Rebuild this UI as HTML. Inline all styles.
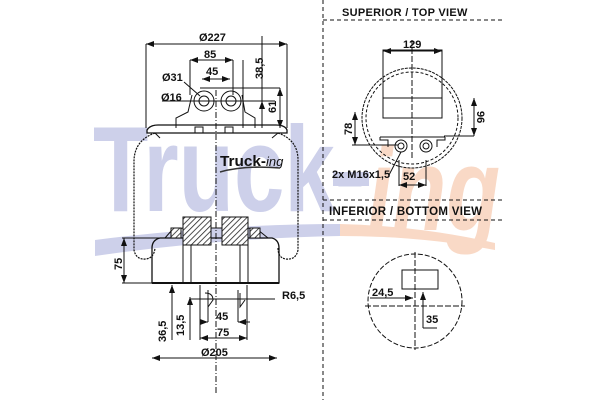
<!DOCTYPE html>
<html><head><meta charset="utf-8"><style>
html,body{margin:0;padding:0;background:#fff;width:600px;height:400px;overflow:hidden}
svg{display:block}
text{font-family:"Liberation Sans",sans-serif;font-weight:bold;fill:#111}
</style></head><body>
<svg width="600" height="400" viewBox="0 0 600 400" xmlns="http://www.w3.org/2000/svg">
<defs>
<pattern id="h" width="4" height="4" patternUnits="userSpaceOnUse" patternTransform="rotate(45)"><rect width="4" height="4" fill="#fff"/><line x1="0" y1="0" x2="0" y2="4" stroke="#222" stroke-width="1.6"/></pattern>
<marker id="a" markerWidth="8" markerHeight="6" refX="8" refY="3" orient="auto-start-reverse"><path d="M0,0 L8,3 L0,6z" fill="#111"/></marker>
</defs>
<!-- watermark -->
<text x="93" y="211" font-size="122" textLength="272" lengthAdjust="spacingAndGlyphs" style="fill:#cdd0ea;font-family:'Liberation Sans',sans-serif;font-weight:bold">Truck-</text>
<text x="368" y="230" font-size="118" textLength="132" lengthAdjust="spacingAndGlyphs" style="fill:#f9d9c6;font-family:'Liberation Sans',sans-serif;font-weight:bold;font-style:italic">ing</text>
<path d="M95,240 Q220,224 340,224 L340,236 Q220,238 95,256 Z" fill="#cdd0ea"/>
<path d="M340,224 Q420,226 495,243 L495,250 Q420,236 340,236Z" fill="#f9d9c6"/>
<rect x="333" y="172" width="36" height="14" fill="#cdd0ea"/>
<g fill="none" stroke="#111" stroke-width="1">
<line x1="146" y1="44" x2="146" y2="128"/><line x1="287" y1="44" x2="287" y2="128"/>
<line x1="146" y1="44" x2="287" y2="44" marker-start="url(#a)" marker-end="url(#a)"/>
<line x1="190" y1="60" x2="190" y2="95"/><line x1="233" y1="60" x2="233" y2="95"/>
<line x1="190" y1="60" x2="233" y2="60" marker-start="url(#a)" marker-end="url(#a)"/>
<line x1="202" y1="79" x2="230" y2="79" marker-start="url(#a)" marker-end="url(#a)"/>
<line x1="243" y1="60" x2="243" y2="128"/>
<line x1="262" y1="36" x2="262" y2="128"/>
<line x1="200" y1="88" x2="280" y2="88"/><line x1="280" y1="88" x2="280" y2="128" marker-start="url(#a)" marker-end="url(#a)"/>
<line x1="162" y1="101" x2="275" y2="101"/><line x1="262" y1="101" x2="262" y2="128" marker-start="url(#a)"/>
<line x1="184" y1="82" x2="200" y2="96"/>
<circle cx="204" cy="101" r="10"/><circle cx="204" cy="101" r="5"/>
<circle cx="231" cy="101" r="10"/><circle cx="231" cy="101" r="5"/>
<path d="M176,128 L176,118 L188,112 L192,95 M255,128 L255,118 L245,112 L242,95"/>
<line x1="216" y1="90" x2="216" y2="395" stroke-dasharray="6,2,1,2"/>
<path d="M147,130 Q150,125 158,125 L276,125 Q285,125 287,130 L287,133 L147,133Z" stroke-width="1.3"/>
<rect x="195" y="127" width="8" height="6"/><rect x="225" y="127" width="8" height="6"/>
<path d="M155,133 L160,138 M278,133 L272,138"/>
<path d="M155,133 Q135,140 134,160 L134,250 Q136,260 146,259 Q154,258 155,248" stroke-dasharray="2,1" stroke-width="1.2"/>
<path d="M278,133 Q298,140 298,160 L298,250 Q296,260 286,259 Q278,258 278,248" stroke-dasharray="2,1" stroke-width="1.2"/>
<path d="M152,283 L152,248 Q152,240 160,238 L272,238 Q279,240 279,248 L279,283 Z" stroke-width="1.3"/>
<line x1="152" y1="283" x2="279" y2="283" stroke-width="2"/>
<rect x="183" y="243" width="8" height="40"/><rect x="240" y="243" width="8" height="40"/>
<path d="M165,238 L172,230 L183,228 L248,228 L258,230 L268,238"/>
<rect x="183" y="217" width="28" height="28" fill="url(#h)"/><rect x="222" y="217" width="26" height="28" fill="url(#h)"/>
<rect x="171" y="228" width="10" height="10" fill="url(#h)"/><rect x="250" y="228" width="10" height="10" fill="url(#h)"/>
<line x1="122" y1="238" x2="165" y2="238"/><line x1="122" y1="283" x2="152" y2="283"/>
<line x1="124" y1="238" x2="124" y2="283" marker-start="url(#a)" marker-end="url(#a)"/>
<line x1="172" y1="285" x2="172" y2="340" marker-start="url(#a)"/>
<line x1="190" y1="297" x2="190" y2="340" marker-start="url(#a)"/>
<line x1="190" y1="299" x2="247" y2="299"/><line x1="247" y1="299" x2="275" y2="299"/>
<path d="M200,285 L200,340 M247,285 L247,340 M208,290 L208,322 M238,290 L238,322"/>
<path d="M205,293 Q213,293 213,300 L208,307 M240,293 L240,307 L245,300"/>
<line x1="200" y1="322" x2="208" y2="322" marker-end="url(#a)"/><line x1="250" y1="322" x2="238" y2="322" marker-end="url(#a)"/>
<line x1="200" y1="338" x2="247" y2="338" marker-start="url(#a)" marker-end="url(#a)"/>
<line x1="152" y1="358" x2="277" y2="358" marker-start="url(#a)" marker-end="url(#a)"/>
<line x1="323" y1="0" x2="323" y2="400" stroke-dasharray="4,3"/>
<line x1="323" y1="20" x2="505" y2="20" stroke-dasharray="4,3"/>
<line x1="323" y1="200" x2="505" y2="200" stroke-dasharray="4,3"/>
<line x1="323" y1="220" x2="505" y2="220" stroke-dasharray="4,3"/>
<circle cx="412" cy="118" r="50" stroke-dasharray="3,1"/><circle cx="412" cy="118" r="46" stroke-dasharray="3,2"/>
<rect x="383" y="50" width="59" height="68"/><line x1="383" y1="98" x2="442" y2="98"/>
<line x1="412" y1="40" x2="412" y2="160" stroke-dasharray="6,2"/>
<line x1="383" y1="51" x2="442" y2="51" marker-start="url(#a)" marker-end="url(#a)"/>
<path d="M380,137 L380,140 L388,140 L388,147 M445,137 L445,140 L437,140 L437,147 M380,137 L445,137"/>
<circle cx="401" cy="146" r="6"/><circle cx="401" cy="146" r="3"/>
<circle cx="426" cy="146" r="6"/><circle cx="426" cy="146" r="3"/>
<line x1="352" y1="145" x2="398" y2="145"/><line x1="355" y1="112" x2="355" y2="145" marker-start="url(#a)" marker-end="url(#a)"/>
<line x1="474" y1="98" x2="474" y2="136" marker-start="url(#a)" marker-end="url(#a)"/><line x1="444" y1="136" x2="474" y2="136"/>
<path d="M401,152 L389,175 M399,160 L399,186 M426,160 L426,186"/>
<line x1="399" y1="185" x2="426" y2="185" marker-start="url(#a)" marker-end="url(#a)"/>
<circle cx="415" cy="301" r="47" stroke-dasharray="5,2"/>
<line x1="415" y1="252" x2="415" y2="350" stroke-dasharray="6,2"/>
<line x1="365" y1="306" x2="465" y2="306" stroke-dasharray="6,2"/>
<rect x="402" y="270" width="36" height="19"/>
<line x1="370" y1="298" x2="413" y2="298" marker-end="url(#a)"/>
<line x1="423" y1="328" x2="423" y2="292" marker-end="url(#a)"/><line x1="423" y1="328" x2="437" y2="328"/>
</g>
<text x="220" y="166" font-size="15" textLength="46" lengthAdjust="spacingAndGlyphs">Truck-</text>
<text x="266" y="166" font-size="13" style="font-weight:normal;font-style:italic">ing</text>
<path d="M220,172 Q245,165 280,168" stroke="#333" stroke-width="1.5" fill="none"/>
<g font-size="11">
<text x="199" y="41">Ø227</text>
<text x="204" y="58">85</text>
<text x="206" y="75">45</text>
<text x="162" y="81">Ø31</text>
<text x="161" y="101">Ø16</text>
<text x="0" y="0" transform="translate(263,79) rotate(-90)">38,5</text>
<text x="0" y="0" transform="translate(276,113) rotate(-90)">61</text>
<text x="0" y="0" transform="translate(122,270) rotate(-90)">75</text>
<text x="282" y="299">R6,5</text>
<text x="0" y="0" transform="translate(166,342) rotate(-90)">36,5</text>
<text x="0" y="0" transform="translate(184,336) rotate(-90)">13,5</text>
<text x="216" y="320">45</text>
<text x="217" y="336">75</text>
<text x="201" y="356">Ø205</text>
<text x="403" y="48">129</text>
<text x="0" y="0" transform="translate(352,135) rotate(-90)">78</text>
<text x="0" y="0" transform="translate(477,111) rotate(90)">96</text>
<text x="332" y="178">2x M16x1,5</text>
<text x="403" y="180">52</text>
<text x="372" y="296">24,5</text>
<text x="426" y="323">35</text>
<text x="342" y="16" style="letter-spacing:0.3px">SUPERIOR / TOP VIEW</text>
<text x="329" y="215" font-size="11.5" style="letter-spacing:0.3px">INFERIOR / BOTTOM VIEW</text>
</g>
</svg>
</body></html>
